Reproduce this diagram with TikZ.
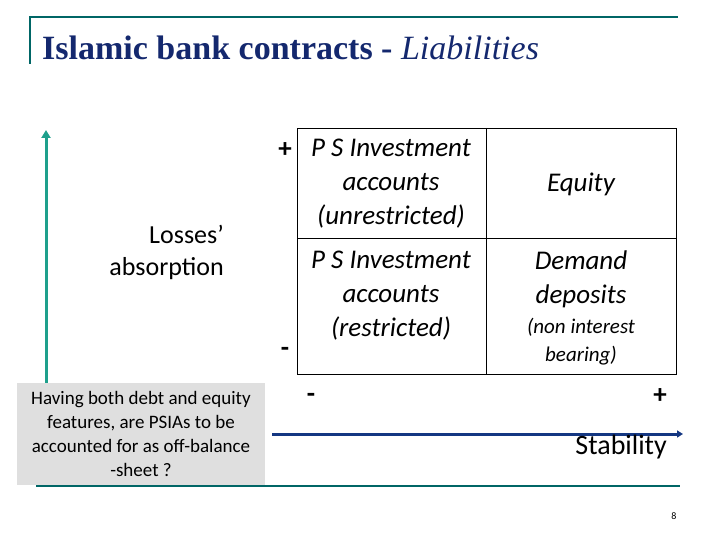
\documentclass[tikz,border=0pt]{standalone}
\usepackage{fontspec}
\usetikzlibrary{arrows.meta}
\setmainfont{Carlito}
\newfontfamily\titlefont{Liberation Serif}
\begin{document}
\begin{tikzpicture}[x=1pt,y=-1pt,
  teal/.style={draw=teal!80!black,line width=1.5pt},
  cell/.style={align=center,font=\itshape,inner sep=0pt}]
\useasboundingbox (0,0) rectangle (720,540);
\definecolor{tblue}{RGB}{20,40,110}
\definecolor{axblue}{RGB}{20,55,130}
\definecolor{agreen}{RGB}{30,160,140}
\coordinate (tl) at (30,64); \coordinate (tc) at (30,17); \coordinate (tr) at (678,17);
\draw[teal] (tl) -- (tc) -- (tr);
\node[anchor=west,inner sep=0pt,font=\titlefont\fontsize{34}{36}\selectfont,text=tblue] (title) at (42,48) {\textbf{Islamic bank contracts -} \textit{Liabilities}};
\coordinate (bl) at (36,486); \coordinate (br) at (680,486);
\draw[teal] (bl) -- (br);
% green arrow
\coordinate (ga) at (46,400); \coordinate (gb) at (46,130);
\draw[draw=agreen,line width=3pt,-{Triangle[length=8pt,width=9pt]}] (ga) -- (gb);
% table
\draw[line width=0.6pt] (297,128) rectangle (676,374);
\draw[line width=0.6pt] (297,238) -- (676,238);
\draw[line width=0.6pt] (486,128) -- (486,374);
\node[cell,font=\itshape\fontsize{27}{34}\selectfont] (c1) at (391,184) {P S Investment\\accounts\\(unrestricted)};
\node[cell,font=\itshape\fontsize{27}{34}\selectfont] (c2) at (391,296) {P S Investment\\accounts\\(restricted)};
\node[cell,font=\itshape\fontsize{27}{30}\selectfont] (c3) at (581,184) {Equity};
\node[cell,font=\itshape\fontsize{27}{34}\selectfont] (c4) at (581,279) {Demand\\deposits};
\node[cell,font=\itshape\fontsize{21}{28}\selectfont] (c5) at (581,342) {(non interest\\bearing)};
\node[font=\bfseries\fontsize{27}{30}\selectfont,inner sep=0pt] (p1) at (285,150) {+};
\node[font=\bfseries\fontsize{27}{30}\selectfont,inner sep=0pt] (m1) at (285,352) {-};
\node[align=right,font=\fontsize{26}{32}\selectfont,inner sep=0pt,anchor=east] (loss) at (224,252) {Losses'\\absorption};
% grey box
\node[fill=gray!25,minimum width=248pt,minimum height=102pt,align=center,inner sep=0pt,font=\fontsize{19}{24}\selectfont] (box) at (141,434) {Having both debt and equity\\features, are PSIAs to be\\accounted for as off-balance\\-sheet ?};
% stability axis
\coordinate (sa) at (272,434); \coordinate (sb) at (683,434);
\draw[draw=axblue,line width=3pt,-{Triangle[length=6pt,width=7pt]}] (sa) -- (sb);
\node[font=\bfseries\fontsize{27}{30}\selectfont,inner sep=0pt] (m2) at (311,398) {-};
\node[font=\bfseries\fontsize{27}{30}\selectfont,inner sep=0pt] (p2) at (660,396) {+};
\node[font=\fontsize{28}{30}\selectfont,inner sep=0pt,anchor=east] (stab) at (667,447) {Stability};
\node[font=\fontsize{10}{11}\selectfont,inner sep=0pt] (pg) at (674,516) {8};
\end{tikzpicture}
\end{document}
